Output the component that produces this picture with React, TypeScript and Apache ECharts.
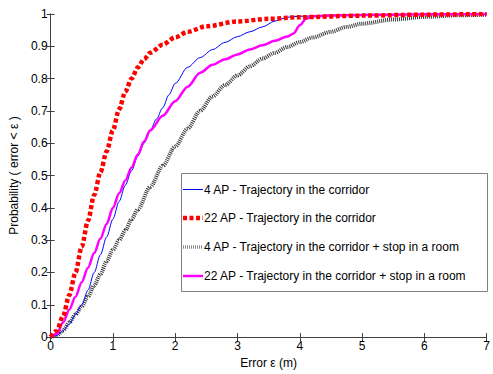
import React, { useEffect, useRef } from "react";
import * as echarts from "echarts";

const xTicks = [0, 1, 2, 3, 4, 5, 6, 7];
const legendNames = [
  "4 AP - Trajectory in the corridor",
  "22 AP - Trajectory in the corridor",
  "4 AP - Trajectory in the corridor + stop in a room",
  "22 AP - Trajectory in the corridor + stop in a room",
];

const blue4: [number, number][] = [
  [0, 0], [0.1, 0.005], [0.2, 0.02], [0.3, 0.04], [0.4, 0.07], [0.5, 0.1], [0.6, 0.145],
  [0.7, 0.2], [0.8, 0.255], [0.9, 0.31], [1.0, 0.365], [1.1, 0.42], [1.2, 0.47], [1.3, 0.515],
  [1.4, 0.56], [1.5, 0.6], [1.6, 0.64], [1.7, 0.675], [1.8, 0.71], [1.9, 0.75], [2.0, 0.785],
  [2.2, 0.835], [2.4, 0.865], [2.6, 0.89], [2.8, 0.912], [3.0, 0.93], [3.2, 0.945],
  [3.4, 0.96], [3.6, 0.978], [3.8, 0.99], [4.0, 0.993], [4.5, 0.996], [5.0, 0.997],
  [6.0, 0.999], [7.0, 1.0],
];

const red22: [number, number][] = [
  [0, 0], [0.1, 0.02], [0.2, 0.065], [0.3, 0.13], [0.4, 0.2], [0.5, 0.28], [0.6, 0.36],
  [0.7, 0.44], [0.8, 0.51], [0.9, 0.575], [1.0, 0.64], [1.1, 0.705], [1.2, 0.76],
  [1.3, 0.80], [1.4, 0.835], [1.5, 0.86], [1.6, 0.88], [1.8, 0.905], [2.0, 0.928],
  [2.2, 0.945], [2.5, 0.962], [3.0, 0.977], [3.5, 0.985], [4.0, 0.99], [5.0, 0.995],
  [6.0, 0.998], [7.0, 1.0],
];

const gray4room: [number, number][] = [
  [0, 0], [0.1, 0.005], [0.2, 0.02], [0.3, 0.045], [0.4, 0.07], [0.5, 0.095], [0.6, 0.125],
  [0.7, 0.16], [0.8, 0.195], [0.9, 0.235], [1.0, 0.27], [1.1, 0.30], [1.2, 0.33], [1.3, 0.365],
  [1.4, 0.395], [1.6, 0.465], [1.8, 0.53], [2.0, 0.59], [2.2, 0.645], [2.4, 0.70],
  [2.6, 0.745], [2.8, 0.78], [3.0, 0.81], [3.2, 0.838], [3.4, 0.862], [3.6, 0.88],
  [3.8, 0.898], [4.0, 0.913], [4.2, 0.927], [4.5, 0.945], [4.75, 0.96], [5.0, 0.97],
  [5.5, 0.983], [6.0, 0.991], [6.5, 0.996], [7.0, 0.998],
];

const magenta22room: [number, number][] = [
  [0, 0], [0.1, 0.01], [0.2, 0.045], [0.3, 0.085], [0.4, 0.125], [0.5, 0.17], [0.6, 0.215],
  [0.7, 0.26], [0.8, 0.305], [0.9, 0.35], [1.0, 0.40], [1.1, 0.445], [1.2, 0.485], [1.3, 0.525],
  [1.4, 0.565], [1.5, 0.605], [1.6, 0.64], [1.8, 0.685], [2.0, 0.73], [2.2, 0.775],
  [2.4, 0.818], [2.6, 0.843], [2.8, 0.86], [3.0, 0.875], [3.2, 0.89], [3.4, 0.903],
  [3.6, 0.917], [3.8, 0.93], [3.9, 0.94], [4.0, 0.965], [4.1, 0.985], [4.2, 0.993],
  [4.5, 0.995], [5.0, 0.997], [6.0, 0.999], [7.0, 1.0],
];

const FONT = "Liberation Sans, Arial, sans-serif";

export default function App() {
  const ref = useRef<HTMLDivElement>(null);
  useEffect(() => {
    if (!ref.current) return;
    const chart = echarts.init(ref.current, undefined, { renderer: "svg" });
    const axisLine = { show: true, lineStyle: { color: "#404040", width: 1 } };
    const tick = { show: true, inside: true, length: 4, lineStyle: { color: "#404040" } };

    const lx = 181, ly = 173, lw = 306, lh = 118;
    const rowY = [189.5, 218, 247, 276];
    const legendStyles = [
      { stroke: "#0000ff", lineWidth: 1 },
      { stroke: "#ff0000", lineWidth: 4.5, lineDash: [4, 2.5] },
      { stroke: "#8a8a8a", lineWidth: 3.5, lineDash: [1, 1] },
      { stroke: "#ff00ff", lineWidth: 2.5 },
    ];
    const legendGraphics: any[] = [
      {
        type: "rect", left: lx, top: ly, z: 100,
        shape: { x: 0, y: 0, width: lw, height: lh },
        style: { fill: "#ffffff", stroke: "#808080", lineWidth: 1 },
      },
    ];
    legendNames.forEach((name, i) => {
      legendGraphics.push({
        type: "line", z: 101,
        shape: { x1: lx + 2, y1: rowY[i], x2: lx + 22, y2: rowY[i] },
        style: { ...legendStyles[i], lineCap: "butt" },
      });
      legendGraphics.push({
        type: "text", z: 101, x: lx + 23, y: rowY[i],
        style: { text: name, fontFamily: FONT, fontSize: 12, fill: "#000", verticalAlign: "middle", align: "left" },
      });
    });

    chart.setOption({
      animation: false,
      backgroundColor: "#ffffff",
      textStyle: { fontFamily: FONT },
      grid: { left: 47, right: 4, top: 14, bottom: 27, containLabel: false },
      graphic: legendGraphics,
      xAxis: [
        {
          type: "value", min: 0, max: 7, interval: 1, position: "bottom",
          name: "Error ε (m)", nameLocation: "middle", nameGap: 16,
          nameTextStyle: { fontFamily: FONT, fontSize: 12, color: "#000" },
          axisLine, axisTick: tick, splitLine: { show: false },
          axisLabel: { margin: 3, fontFamily: FONT, fontSize: 12, color: "#000",
            formatter: (v: number) => (xTicks.includes(v) ? String(v) : "") },
        },
        {
          type: "value", min: 0, max: 7, interval: 1, position: "top",
          axisLine, axisTick: tick, splitLine: { show: false }, axisLabel: { show: false },
        },
      ],
      yAxis: [
        {
          type: "value", min: 0, max: 1, interval: 0.1, position: "left",
          name: "Probability ( error < ε )", nameLocation: "middle", nameGap: 21,
          nameTextStyle: { fontFamily: FONT, fontSize: 12, color: "#000" },
          axisLine, axisTick: tick, splitLine: { show: false },
          axisLabel: { margin: 3, fontFamily: FONT, fontSize: 12, color: "#000" },
        },
        {
          type: "value", min: 0, max: 1, interval: 0.1, position: "right",
          axisLine, axisTick: tick, splitLine: { show: false }, axisLabel: { show: false },
        },
      ],
      series: [
        {
          name: legendNames[2], type: "line", data: gray4room, showSymbol: false, symbol: "none",
          smooth: 0.3, smoothMonotone: "x",
          lineStyle: { color: "#3a3a3a", width: 4, type: [1, 1], cap: "butt" }, z: 2,
        },
        {
          name: legendNames[0], type: "line", data: blue4, showSymbol: false, symbol: "none",
          smooth: 0.3, smoothMonotone: "x",
          lineStyle: { color: "#0000ff", width: 1 }, z: 3,
        },
        {
          name: legendNames[3], type: "line", data: magenta22room, showSymbol: false, symbol: "none",
          smooth: 0.3, smoothMonotone: "x",
          lineStyle: { color: "#ff00ff", width: 2.5 }, z: 4,
        },
        {
          name: legendNames[1], type: "line", data: red22, showSymbol: false, symbol: "none",
          smooth: 0.3, smoothMonotone: "x",
          lineStyle: { color: "#ff0000", width: 4.5, type: [4, 2.5], cap: "butt" }, z: 5,
        },
      ],
    });
    return () => chart.dispose();
  }, []);
  return (
    <div
      ref={ref}
      style={{ position: "fixed", left: 0, top: 0, width: 493, height: 374, background: "#fff" }}
    />
  );
}
